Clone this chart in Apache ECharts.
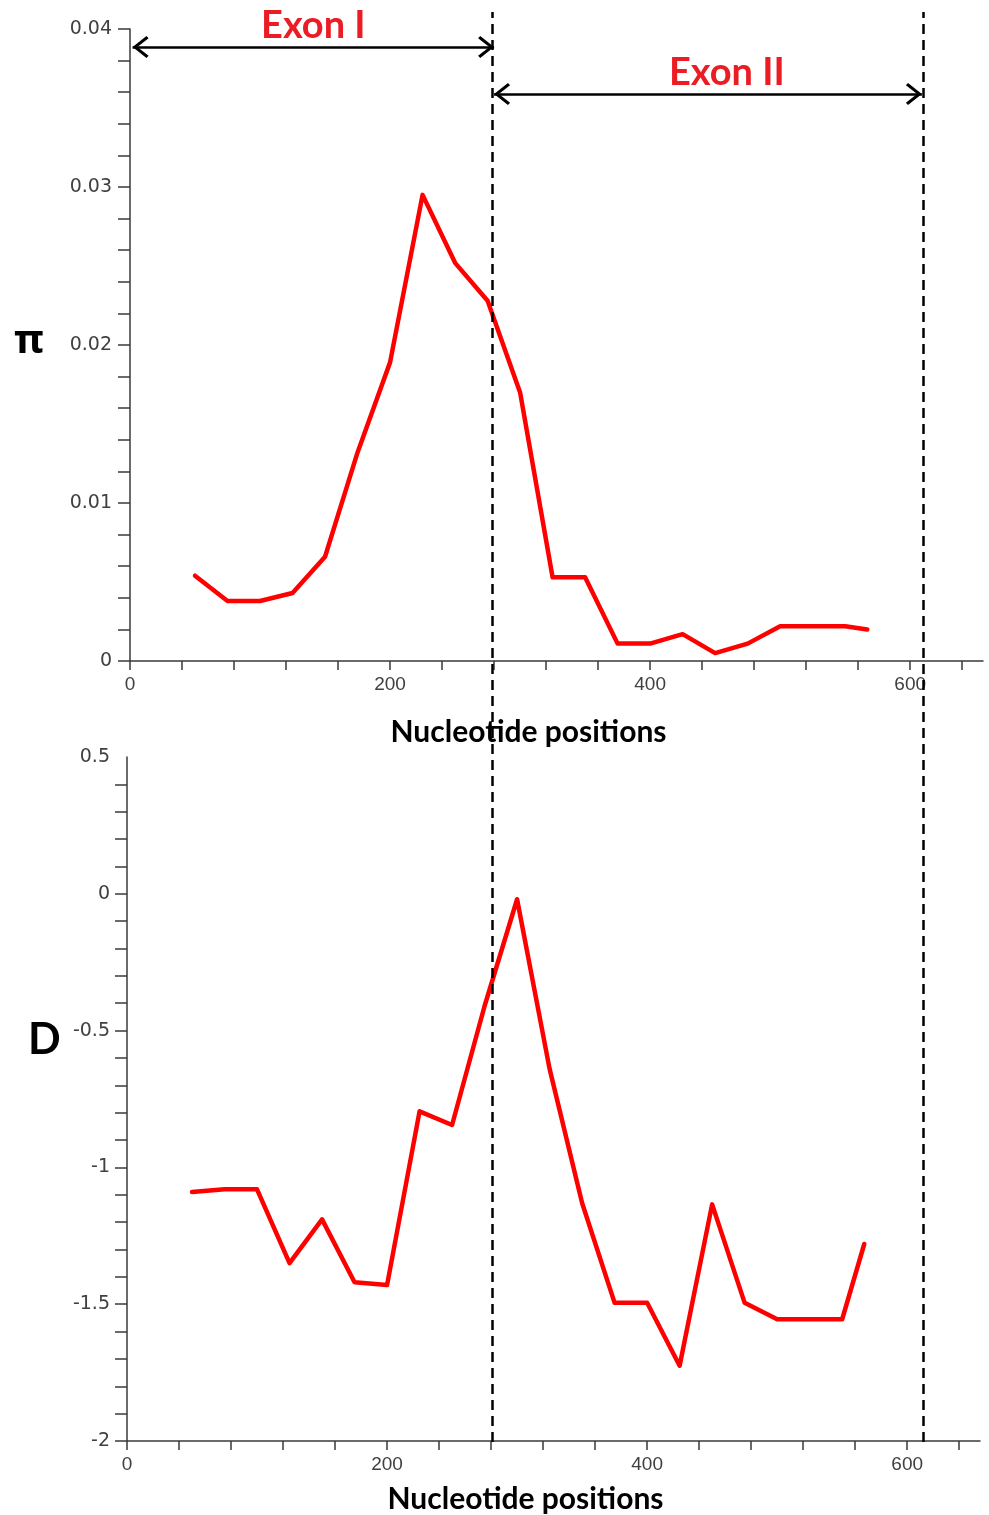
<!DOCTYPE html>
<html><head><meta charset="utf-8">
<script src="https://cdn.jsdelivr.net/npm/echarts@6/dist/echarts.min.js"></script>
<style>html,body{margin:0;padding:0;background:#fff}#c{width:989px;height:1515px}</style>
</head><body><div id="c"></div>
<script>
// ---- data ----
const positions = [50,75,100,125,150,175,200,225,250,275,300,325,350,375,400,425,450,475,500,525,550,567];
const piValues  = [0.0054,0.0038,0.0038,0.0043,0.0066,0.0132,0.0189,0.0295,0.0252,0.0228,0.0170,0.0053,0.0053,0.0011,0.0011,0.0017,0.0005,0.0011,0.0022,0.0022,0.0022,0.0020];
const dValues   = [-1.09,-1.08,-1.08,-1.35,-1.19,-1.42,-1.43,-0.795,-0.845,-0.41,-0.02,-0.64,-1.13,-1.495,-1.495,-1.725,-1.135,-1.495,-1.555,-1.555,-1.555,-1.28];
const xLabelValues  = [0,200,400,600];
const piLabelValues = [0,0.01,0.02,0.03,0.04];
const dLabelValues  = [-2,-1.5,-1,-0.5,0,0.5];
const exonBounds = [0,279,611];
const exonNames  = ['Exon I','Exon II'];
const arrowLevels = [0.03886,0.03589];
const exonLabelPos = [0.0372];

// ---- tick lists ----
const xTicks = []; for (let v = 0; v <= 640; v += 40) xTicks.push(v);
const piTicks = []; for (let k = 0; k <= 20; k++) piTicks.push(+(k*0.002).toFixed(3));
const dTicks = []; for (let k = -20; k <= 4; k++) dTicks.push(+(k/10).toFixed(1));

const AX = '#3a3a3a';
const LBL = '#404040';
const RED = '#ff0000';
const TXT_RED = '#ec1c24';
const chevron = 'path://M10,0 L20,13 L18,15 L10,4.5 L2,15 L0,13 Z';

function xAxisCfg(gi, gap) {
  return {
    gridIndex: gi, type: 'value', min: 0, max: 656,
    axisLine: {show: true, onZero: false, lineStyle: {color: AX, width: 1.5}},
    axisTick: {show: true, customValues: xTicks, length: 9, lineStyle: {color: AX, width: 1.5}},
    axisLabel: {customValues: xLabelValues, margin: 14, color: LBL, fontSize: 19, fontFamily: 'Liberation Sans'},
    splitLine: {show: false},
    name: 'Nucleotide positions', nameLocation: 'middle', nameGap: gap,
    nameTextStyle: {fontFamily: 'Lato', fontWeight: 'bold', fontSize: 30, color: '#000', padding: [0, 56, 0, 0]}
  };
}

const chart = echarts.init(document.getElementById('c'), null, {renderer: 'canvas'});
chart.setOption({
  animation: false,
  backgroundColor: '#fff',
  grid: [
    {left: 130, top: 29, width: 853, height: 632},
    {left: 127, top: 757, width: 853, height: 687},
    {left: 129, top: 12, width: 853, height: 1430}
  ],
  xAxis: [
    xAxisCfg(0, 56),
    xAxisCfg(1, 43),
    {gridIndex: 2, type: 'value', min: 0, max: 656, show: false}
  ],
  yAxis: [
    {gridIndex: 0, type: 'value', min: 0, max: 0.04,
     axisLine: {show: true, onZero: false, lineStyle: {color: AX, width: 1.5}},
     axisTick: {show: true, customValues: piTicks, length: 12, lineStyle: {color: AX, width: 1.5}},
     axisLabel: {customValues: piLabelValues, margin: 18, color: LBL, fontSize: 19, fontFamily: 'DejaVu Sans'},
     splitLine: {show: false}},
    {gridIndex: 1, type: 'value', min: -2, max: 0.5,
     axisLine: {show: true, onZero: false, lineStyle: {color: AX, width: 1.5}},
     axisTick: {show: true, customValues: dTicks, length: 12, lineStyle: {color: AX, width: 1.5}},
     axisLabel: {customValues: dLabelValues, margin: 17, color: LBL, fontSize: 19, fontFamily: 'DejaVu Sans'},
     splitLine: {show: false}},
    {gridIndex: 2, type: 'value', min: 0, max: 1, show: false}
  ],
  series: [
    {
      type: 'line', xAxisIndex: 0, yAxisIndex: 0, symbol: 'none', silent: true,
      data: positions.map((p, i) => [p, piValues[i]]),
      lineStyle: {color: RED, width: 4.5, cap: 'round', join: 'round'},
      markLine: {
        silent: true, animation: false,
        symbol: [chevron, chevron], symbolSize: [22, 16], symbolOffset: [[0, 8], [0, 8]],
        lineStyle: {color: '#000', width: 2.5, type: 'solid'},
        label: {show: false},
        emphasis: {disabled: true},
        data: [
          [{coord: [exonBounds[0] + 2, arrowLevels[0]],
            label: {show: true, position: 'middle', formatter: exonNames[0], distance: 2,
                    color: TXT_RED, fontSize: 38, fontWeight: 'bold', fontFamily: 'Lato'}},
           {coord: [exonBounds[1] + 1, arrowLevels[0]]}],
          [{coord: [exonBounds[1] + 1, arrowLevels[1]]},
           {coord: [exonBounds[2] - 2, arrowLevels[1]]}]
        ]
      },
      markPoint: {
        silent: true, symbol: 'circle', symbolSize: 1, itemStyle: {color: 'rgba(0,0,0,0)'},
        label: {show: true, position: 'inside', formatter: exonNames[1],
                color: TXT_RED, fontSize: 38, fontWeight: 'bold', fontFamily: 'Lato'},
        data: [{coord: [459, exonLabelPos[0]]}]
      }
    },
    {
      type: 'line', xAxisIndex: 1, yAxisIndex: 1, symbol: 'none', silent: true,
      data: positions.map((p, i) => [p, dValues[i]]),
      lineStyle: {color: RED, width: 4.5, cap: 'round', join: 'round'}
    },
    {
      type: 'line', xAxisIndex: 2, yAxisIndex: 2, symbol: 'none', silent: true,
      data: [],
      markLine: {
        silent: true, animation: false, symbol: 'none',
        label: {show: false},
        lineStyle: {color: '#000', width: 2.5, type: [10, 6]},
        data: [{xAxis: exonBounds[1]}, {xAxis: exonBounds[2]}]
      }
    }
  ],
  graphic: [
    {type: 'text', left: 14, top: 322, style: {text: 'π', font: 'bold 40px "Noto Sans"', fill: '#000'}},
    {type: 'text', left: 28, top: 1019, style: {text: 'D', font: 'bold 43px Lato', fill: '#000'}}
  ]
});
</script>
</body></html>
